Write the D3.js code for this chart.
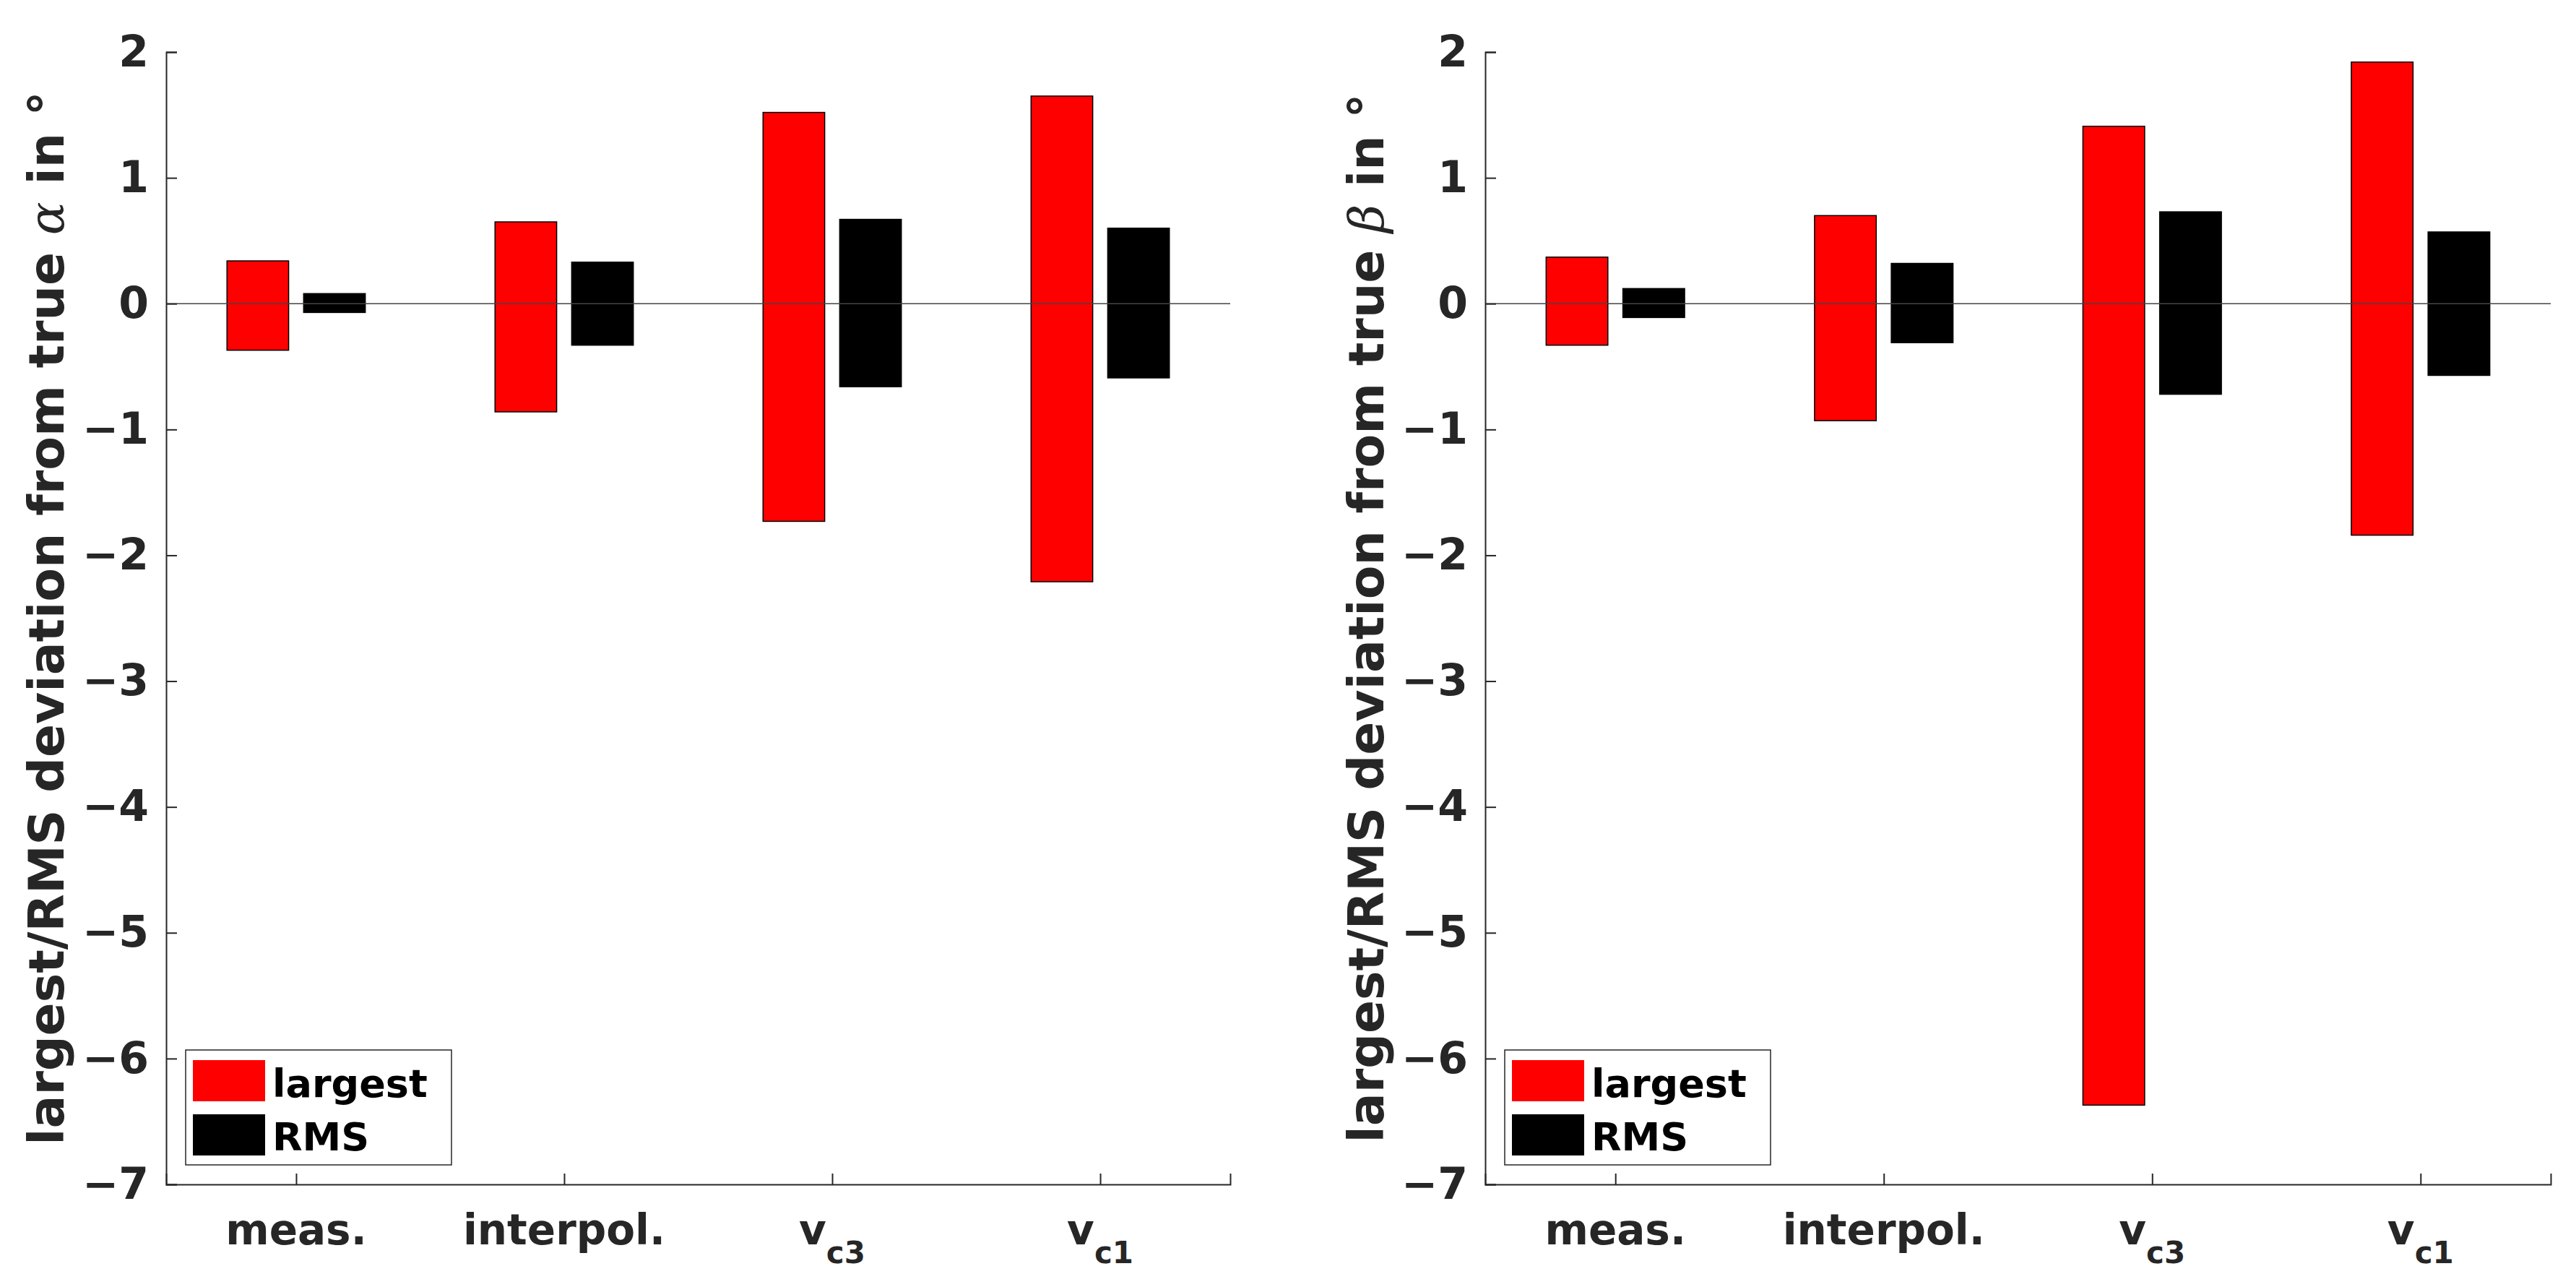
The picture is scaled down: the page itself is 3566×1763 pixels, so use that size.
<!DOCTYPE html>
<html>
<head>
<meta charset="utf-8">
<script src="https://cdn.jsdelivr.net/npm/d3@7"></script>
<style>
body{margin:0;background:#fff;}
text{font-family:"DejaVu Sans",sans-serif;font-weight:bold;fill:#262626;}
</style>
</head>
<body>
<div id="chart"></div>
<script>
var categories = ['meas.','interpol.','v|c3','v|c1'];
var seriesNames = ['largest','RMS'];
var yTicks = [2,1,0,-1,-2,-3,-4,-5,-6,-7];

// alpha panel
var alphaLargestHi = [0.34,0.65,1.52,1.65];
var alphaLargestLo = [-0.37,-0.86,-1.73,-2.21];
var alphaRmsHi = [0.08,0.33,0.67,0.60];
var alphaRmsLo = [-0.07,-0.33,-0.66,-0.59];
// beta panel
var betaLargestHi = [0.37,0.70,1.41,1.92];
var betaLargestLo = [-0.33,-0.93,-6.37,-1.84];
var betaRmsHi = [0.12,0.32,0.73,0.57];
var betaRmsLo = [-0.11,-0.31,-0.72,-0.57];

var svg = d3.select('#chart').append('svg')
    .attr('width',3566).attr('height',1763);

function drawPanel(left,right,greek,lHi,lLo,rHi,rLo,legX,labX){
    var top = 72, bottom = 1639;
    var x = d3.scaleLinear().domain([0.515,4.485]).range([left,right]);
    var y = d3.scaleLinear().domain([2,-7]).range([top,bottom]);
    var g = svg.append('g');
    var colors = ['#ff0000','#000000'];
    var groups = [[lHi,lLo],[rHi,rLo]];
    groups.forEach(function(s,si){
        var off = si === 0 ? -0.143 : 0.143;
        g.selectAll(null).data(categories).enter().append('rect')
            .attr('x',function(d,i){return x(i+1+off-0.115);})
            .attr('width',x(0.23)-x(0))
            .attr('y',function(d,i){return y(s[0][i]);})
            .attr('height',function(d,i){return y(s[1][i])-y(s[0][i]);})
            .attr('fill',colors[si]).attr('stroke','#000').attr('stroke-width',1.5);
    });
    // zero line
    g.append('line').attr('x1',left).attr('x2',right).attr('y1',y(0)).attr('y2',y(0))
        .attr('stroke','#444').attr('stroke-width',1.5);
    // axes
    var ya = g.append('g').attr('transform','translate('+left+',0)')
        .call(d3.axisLeft(y).tickValues(yTicks).tickSize(-15).tickPadding(24).tickFormat(d3.format('d')));
    var xa = g.append('g').attr('transform','translate(0,'+bottom+')')
        .call(d3.axisBottom(x).tickValues([1,2,3,4]).tickSize(-15).tickFormat(''));
    [ya,xa].forEach(function(a){
        a.select('.domain').attr('stroke','#262626').attr('stroke-width',2);
        a.selectAll('.tick line').attr('stroke','#262626').attr('stroke-width',2);
    });
    ya.selectAll('.tick text').attr('font-size',60).attr('font-family','DejaVu Sans').attr('font-weight','bold').attr('fill','#262626');
    // category labels
    categories.forEach(function(c,i){
        var parts = c.split('|');
        var t = g.append('text').attr('x',x(i+1)).attr('y',1722).attr('font-size',58).attr('text-anchor','middle');
        t.append('tspan').text(parts[0]);
        if(parts[1]) t.append('tspan').attr('font-size',42).attr('dy',26).text(parts[1]);
    });
    // y label
    var yl = g.append('text').attr('transform','translate('+labX+','+((top+bottom)/2)+') rotate(-90)')
        .attr('text-anchor','middle').attr('font-size',68);
    yl.append('tspan').text('largest/RMS deviation from true ');
    yl.append('tspan').attr('font-family','DejaVu Serif').attr('font-style','italic').attr('font-weight','normal').text(greek);
    yl.append('tspan').text(' in °');
    // legend
    var lg = g.append('g');
    lg.append('rect').attr('x',legX).attr('y',1453).attr('width',368).attr('height',159)
        .attr('fill','#fff').attr('stroke','#262626').attr('stroke-width',1.5);
    seriesNames.forEach(function(n,i){
        lg.append('rect').attr('x',legX+10).attr('y',1467+i*75).attr('width',100).attr('height',57)
            .attr('fill',colors[i]);
        lg.append('text').attr('x',legX+120).attr('y',1518+i*74).attr('font-size',54).attr('fill','#000').style('fill','#000').text(n);
    });
}

drawPanel(230,1703,'α',alphaLargestHi,alphaLargestLo,alphaRmsHi,alphaRmsLo,257,88);
drawPanel(2056,3531,'β',betaLargestHi,betaLargestLo,betaRmsHi,betaRmsLo,2083,1915);
</script>
</body>
</html>
